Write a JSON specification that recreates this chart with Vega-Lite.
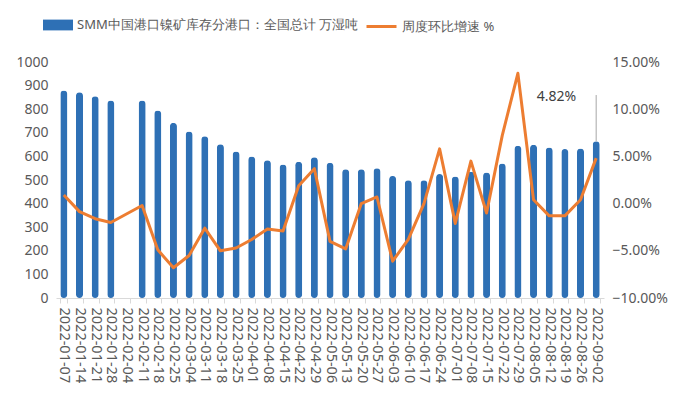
{
  "$schema": "https://vega.github.io/schema/vega-lite/v6.json",
  "autosize": {"type": "none"},
  "width": 548,
  "height": 236,
  "padding": {"left": 56, "top": 62, "right": 76, "bottom": 101},
  "config": {
    "view": {"stroke": null},
    "font": "Noto Sans",
    "axis": {"labelColor": "#595959", "labelFont": "Noto Sans", "grid": false},
    "axisY": {"labelOverlap": false, "labelFontSize": 14, "domain": false, "ticks": false, "labelPadding": 8}
  },
  "data": {
    "values": [
      {"date": "2022-01-07", "inv": 879, "pct": 0.0092},
      {"date": "2022-01-14", "inv": 872, "pct": -0.0085},
      {"date": "2022-01-21", "inv": 855, "pct": -0.016},
      {"date": "2022-01-28", "inv": 837, "pct": -0.020},
      {"date": "2022-02-04", "inv": null, "pct": null},
      {"date": "2022-02-11", "inv": 837, "pct": -0.002},
      {"date": "2022-02-18", "inv": 794, "pct": -0.049},
      {"date": "2022-02-25", "inv": 742, "pct": -0.068},
      {"date": "2022-03-04", "inv": 705, "pct": -0.055},
      {"date": "2022-03-11", "inv": 685, "pct": -0.026},
      {"date": "2022-03-18", "inv": 652, "pct": -0.050},
      {"date": "2022-03-25", "inv": 621, "pct": -0.047},
      {"date": "2022-04-01", "inv": 600, "pct": -0.038},
      {"date": "2022-04-08", "inv": 584, "pct": -0.027},
      {"date": "2022-04-15", "inv": 566, "pct": -0.029},
      {"date": "2022-04-22", "inv": 577, "pct": 0.019},
      {"date": "2022-04-29", "inv": 596, "pct": 0.037},
      {"date": "2022-05-06", "inv": 573, "pct": -0.040},
      {"date": "2022-05-13", "inv": 546, "pct": -0.048},
      {"date": "2022-05-20", "inv": 546, "pct": 0.000},
      {"date": "2022-05-27", "inv": 550, "pct": 0.007},
      {"date": "2022-06-03", "inv": 517, "pct": -0.061},
      {"date": "2022-06-10", "inv": 499, "pct": -0.038},
      {"date": "2022-06-17", "inv": 499, "pct": 0.000},
      {"date": "2022-06-24", "inv": 525, "pct": 0.058},
      {"date": "2022-07-01", "inv": 515, "pct": -0.021},
      {"date": "2022-07-08", "inv": 535, "pct": 0.045},
      {"date": "2022-07-15", "inv": 532, "pct": -0.010},
      {"date": "2022-07-22", "inv": 570, "pct": 0.072},
      {"date": "2022-07-29", "inv": 645, "pct": 0.138},
      {"date": "2022-08-05", "inv": 649, "pct": 0.004},
      {"date": "2022-08-12", "inv": 638, "pct": -0.013},
      {"date": "2022-08-19", "inv": 631, "pct": -0.013},
      {"date": "2022-08-26", "inv": 634, "pct": 0.004},
      {"date": "2022-09-02", "inv": 664, "pct": 0.0482}
    ]
  },
  "encoding": {
    "x": {
      "field": "date",
      "type": "ordinal",
      "sort": null,
      "title": null,
      "scale": {
        "domain": ["2022-01-07","2022-01-14","2022-01-21","2022-01-28","2022-02-04","2022-02-11","2022-02-18","2022-02-25","2022-03-04","2022-03-11","2022-03-18","2022-03-25","2022-04-01","2022-04-08","2022-04-15","2022-04-22","2022-04-29","2022-05-06","2022-05-13","2022-05-20","2022-05-27","2022-06-03","2022-06-10","2022-06-17","2022-06-24","2022-07-01","2022-07-08","2022-07-15","2022-07-22","2022-07-29","2022-08-05","2022-08-12","2022-08-19","2022-08-26","2022-09-02"],
        "paddingInner": 0.55,
        "paddingOuter": 0.275
      },
      "axis": {
        "labelAngle": 90,
        "labelAlign": "left",
        "labelBaseline": "middle",
        "labelFontSize": 14.5,
        "labelPadding": 4,
        "labelOverlap": false,
        "domainColor": "#D9D9D9",
        "tickColor": "#D9D9D9",
        "tickBand": "extent",
        "tickSize": 5
      }
    }
  },
  "layer": [
    {
      "mark": {"type": "bar", "cornerRadius": 3.5},
      "encoding": {
        "y": {
          "field": "inv",
          "type": "quantitative",
          "title": null,
          "scale": {"domain": [0, 1000], "nice": false},
          "axis": {"values": [0,100,200,300,400,500,600,700,800,900,1000], "format": "d", "labelOverlap": false}
        },
        "fill": {
          "datum": "SMM中国港口镍矿库存分港口：全国总计 万湿吨",
          "type": "nominal",
          "scale": {"range": ["#2E70B5"]},
          "legend": {
            "title": null,
            "orient": "none",
            "legendX": -13,
            "legendY": -52,
            "symbolType": "M-1,-0.36H1V0.36H-1Z",
            "symbolSize": 900,
            "symbolStrokeWidth": 0,
            "labelFontSize": 13,
            "labelLimit": 0,
            "labelColor": "#595959",
            "labelFont": "Noto Sans"
          }
        }
      }
    },
    {
      "transform": [{"filter": "datum.date == '2022-09-02'"}],
      "mark": {"type": "rule", "color": "#A6A6A6", "strokeWidth": 1},
      "encoding": {
        "y": {"field": "inv", "type": "quantitative", "scale": {"domain": [0, 1000], "nice": false}, "axis": null},
        "y2": {"datum": 860}
      }
    },
    {
      "transform": [{"filter": "datum.pct != null"}],
      "mark": {"type": "line", "strokeWidth": 3, "strokeJoin": "round"},
      "encoding": {
        "y": {
          "field": "pct",
          "type": "quantitative",
          "title": null,
          "scale": {"domain": [-0.10, 0.15], "nice": false},
          "axis": {"orient": "right", "format": ".2%", "values": [-0.10,-0.05,0,0.05,0.10,0.15]}
        },
        "stroke": {
          "datum": "周度环比增速 %",
          "type": "nominal",
          "scale": {"range": ["#ED7D31"]},
          "legend": {
            "title": null,
            "orient": "none",
            "legendX": 309,
            "legendY": -52,
            "symbolType": "stroke",
            "symbolSize": 900,
            "symbolStrokeWidth": 3,
            "labelFontSize": 13,
            "labelLimit": 0,
            "labelColor": "#595959",
            "labelFont": "Noto Sans"
          }
        }
      }
    },
    {
      "transform": [{"filter": "datum.date == '2022-09-02'"}],
      "mark": {"type": "text", "align": "right", "baseline": "middle", "dx": -20, "dy": -61, "fontSize": 14, "color": "#404040"},
      "encoding": {
        "y": {"field": "pct", "type": "quantitative", "scale": {"domain": [-0.10, 0.15], "nice": false}, "axis": null},
        "text": {"field": "pct", "type": "quantitative", "format": ".2%"}
      }
    }
  ],
  "resolve": {"scale": {"y": "independent"}}
}
